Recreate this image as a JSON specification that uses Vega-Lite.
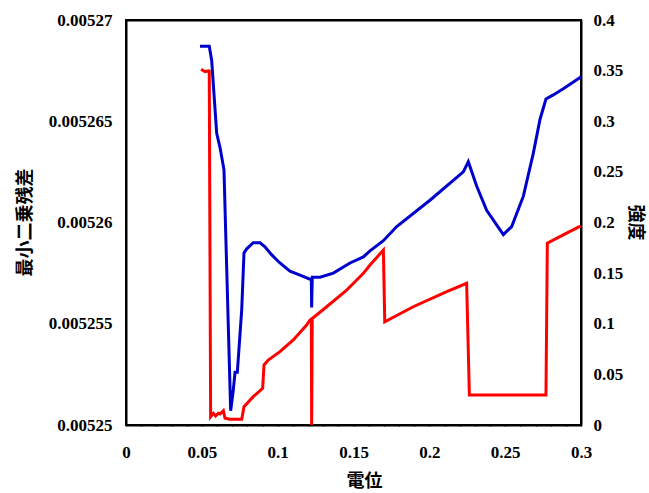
{
  "$schema": "https://vega.github.io/schema/vega-lite/v6.json",
  "autosize": "none",
  "width": 455,
  "height": 405,
  "padding": {"left": 126, "top": 20, "right": 68, "bottom": 68},
  "background": "white",
  "config": {
    "view": {"stroke": "black", "strokeWidth": 2},
    "axis": {
      "labelFont": "Liberation Serif",
      "labelFontWeight": "bold",
      "labelFontSize": 17,
      "labelColor": "black",
      "titleFont": "Noto Sans CJK JP",
      "titleFontWeight": "bold",
      "titleFontSize": 18,
      "titleColor": "black",
      "domainColor": "black",
      "domainWidth": 2,
      "tickColor": "black",
      "tickWidth": 1.5,
      "grid": false,
      "zindex": 1
    }
  },
  "datasets": {
    "resid": [
      {"x": 0.0488, "r": 0.0052687},
      {"x": 0.0549, "r": 0.0052687},
      {"x": 0.0565, "r": 0.0052680},
      {"x": 0.0598, "r": 0.0052644},
      {"x": 0.0620, "r": 0.0052637},
      {"x": 0.0646, "r": 0.0052626},
      {"x": 0.0690, "r": 0.0052507},
      {"x": 0.0707, "r": 0.0052517},
      {"x": 0.0719, "r": 0.0052526},
      {"x": 0.0734, "r": 0.0052526},
      {"x": 0.0763, "r": 0.0052557},
      {"x": 0.0778, "r": 0.0052585},
      {"x": 0.0796, "r": 0.0052587},
      {"x": 0.0839, "r": 0.0052590},
      {"x": 0.0884, "r": 0.0052590},
      {"x": 0.0916, "r": 0.0052588},
      {"x": 0.0961, "r": 0.0052584},
      {"x": 0.1015, "r": 0.0052580},
      {"x": 0.1081, "r": 0.0052576},
      {"x": 0.1147, "r": 0.0052574},
      {"x": 0.1213, "r": 0.0052572},
      {"x": 0.1222, "r": 0.0052572},
      {"x": 0.1224, "r": 0.0052558},
      {"x": 0.1228, "r": 0.0052573},
      {"x": 0.1279, "r": 0.0052573},
      {"x": 0.1367, "r": 0.0052575},
      {"x": 0.1477, "r": 0.0052580},
      {"x": 0.1565, "r": 0.0052583},
      {"x": 0.1609, "r": 0.0052586},
      {"x": 0.1697, "r": 0.0052591},
      {"x": 0.1785, "r": 0.0052598},
      {"x": 0.2004, "r": 0.0052611},
      {"x": 0.2224, "r": 0.0052625},
      {"x": 0.2257, "r": 0.0052630},
      {"x": 0.2312, "r": 0.0052618},
      {"x": 0.2378, "r": 0.0052606},
      {"x": 0.2488, "r": 0.0052594},
      {"x": 0.2543, "r": 0.0052598},
      {"x": 0.2620, "r": 0.0052613},
      {"x": 0.2685, "r": 0.0052634},
      {"x": 0.2730, "r": 0.0052651},
      {"x": 0.2769, "r": 0.0052661},
      {"x": 0.2817, "r": 0.0052663},
      {"x": 0.2883, "r": 0.0052666},
      {"x": 0.2982, "r": 0.0052671},
      {"x": 0.3000, "r": 0.0052672}
    ],
    "intensity": [
      {"x": 0.0495, "i": 0.3513},
      {"x": 0.0521, "i": 0.3489},
      {"x": 0.0543, "i": 0.3499},
      {"x": 0.0549, "i": 0.3496},
      {"x": 0.0558, "i": 0.0082},
      {"x": 0.0576, "i": 0.0116},
      {"x": 0.0591, "i": 0.0089},
      {"x": 0.0609, "i": 0.0116},
      {"x": 0.0620, "i": 0.0109},
      {"x": 0.0642, "i": 0.0141},
      {"x": 0.0653, "i": 0.0066},
      {"x": 0.0686, "i": 0.0056},
      {"x": 0.0763, "i": 0.0056},
      {"x": 0.0778, "i": 0.0181},
      {"x": 0.0839, "i": 0.0280},
      {"x": 0.0901, "i": 0.0362},
      {"x": 0.0910, "i": 0.0593},
      {"x": 0.0938, "i": 0.0642},
      {"x": 0.1015, "i": 0.0724},
      {"x": 0.1103, "i": 0.0840},
      {"x": 0.1191, "i": 0.0988},
      {"x": 0.1213, "i": 0.1037},
      {"x": 0.1222, "i": 0.1047},
      {"x": 0.1224, "i": 0.0},
      {"x": 0.1228, "i": 0.1052},
      {"x": 0.1323, "i": 0.1168},
      {"x": 0.1455, "i": 0.1333},
      {"x": 0.1477, "i": 0.1366},
      {"x": 0.1565, "i": 0.1498},
      {"x": 0.1609, "i": 0.1580},
      {"x": 0.1697, "i": 0.1728},
      {"x": 0.1706, "i": 0.1020},
      {"x": 0.1894, "i": 0.1168},
      {"x": 0.2115, "i": 0.1317},
      {"x": 0.2246, "i": 0.1400},
      {"x": 0.2264, "i": 0.0296},
      {"x": 0.2769, "i": 0.0296},
      {"x": 0.2778, "i": 0.1795},
      {"x": 0.2883, "i": 0.1877},
      {"x": 0.2989, "i": 0.1959},
      {"x": 0.3000, "i": 0.1965}
    ]
  },
  "layer": [
    {
      "data": {"name": "resid"},
      "mark": {"type": "line", "color": "#0000cc", "strokeWidth": 3, "clip": true},
      "encoding": {
        "x": {
          "field": "x", "type": "quantitative",
          "scale": {"domain": [0, 0.3], "nice": false, "zero": false},
          "axis": {
            "orient": "bottom",
            "title": "電位",
            "values": [0,0.01,0.02,0.03,0.04,0.05,0.06,0.07,0.08,0.09,0.1,0.11,0.12,0.13,0.14,0.15,0.16,0.17,0.18,0.19,0.2,0.21,0.22,0.23,0.24,0.25,0.26,0.27,0.28,0.29,0.3],
            "labelExpr": "abs(datum.value*20 - round(datum.value*20)) < 1e-6 ? format(datum.value, '~g') : ''",
            "labelOverlap": false,
            "labelFlush": false,
            "tickSize": 1,
            "labelPadding": 18,
            "titleX": 238,
            "titleY": 47,
            "titleBaseline": "top",
            "encode": {
              "ticks": {
                "update": {
                  "y2": {"signal": "abs(datum.value*20 - round(datum.value*20)) < 1e-6 ? -9 : -5"}
                }
              }
            }
          }
        },
        "y": {
          "field": "r", "type": "quantitative",
          "scale": {"domain": [0.00525, 0.00527], "nice": false, "zero": false},
          "axis": {
            "orient": "left",
            "title": "最小二乗残差",
            "values": [0.00525, 0.005255, 0.00526, 0.005265, 0.00527],
            "format": ".6~f",
            "ticks": false,
            "labelPadding": 14,
            "labelOverlap": false,
            "labelFlush": false,
            "titleX": -92,
            "titleY": 202,
            "titleAngle": -90,
            "titleBaseline": "bottom",
            "titleAlign": "center"
          }
        }
      }
    },
    {
      "data": {"name": "intensity"},
      "mark": {"type": "line", "color": "#ff0000", "strokeWidth": 3, "clip": true},
      "encoding": {
        "x": {
          "field": "x", "type": "quantitative",
          "scale": {"domain": [0, 0.3], "nice": false, "zero": false},
          "axis": {
            "orient": "top",
            "title": null,
            "labels": false,
            "values": [0,0.01,0.02,0.03,0.04,0.05,0.06,0.07,0.08,0.09,0.1,0.11,0.12,0.13,0.14,0.15,0.16,0.17,0.18,0.19,0.2,0.21,0.22,0.23,0.24,0.25,0.26,0.27,0.28,0.29,0.3],
            "tickSize": 1,
            "encode": {
              "ticks": {
                "update": {
                  "y2": {"signal": "abs(datum.value*20 - round(datum.value*20)) < 1e-6 ? 9 : 5"}
                }
              }
            }
          }
        },
        "y": {
          "field": "i", "type": "quantitative",
          "scale": {"domain": [0, 0.4], "nice": false, "zero": false},
          "axis": {
            "orient": "right",
            "title": "強度",
            "values": [0, 0.05, 0.1, 0.15, 0.2, 0.25, 0.3, 0.35, 0.4],
            "format": "~g",
            "ticks": false,
            "labelPadding": 12,
            "labelOverlap": false,
            "labelFlush": false,
            "titleX": 44,
            "titleY": 202,
            "titleAngle": 90,
            "titleBaseline": "bottom",
            "titleAlign": "center"
          }
        }
      }
    }
  ],
  "resolve": {"scale": {"y": "independent"}, "axis": {"x": "independent", "y": "independent"}}
}
